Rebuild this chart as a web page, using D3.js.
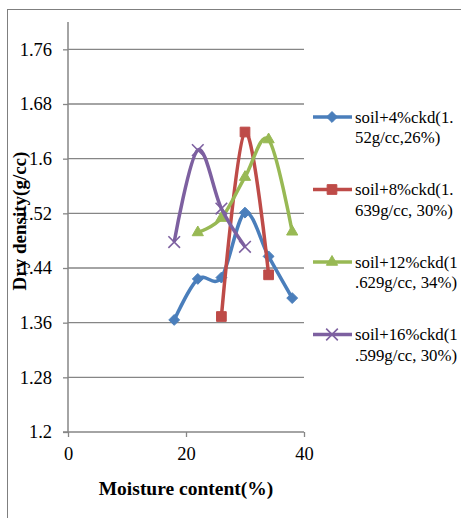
<!DOCTYPE html>
<html><head><meta charset="utf-8">
<script src="https://cdn.jsdelivr.net/npm/d3@7"></script>
<style>body{margin:0;background:#fff}svg{display:block}svg text{font-family:"Times New Roman","Liberation Serif","DejaVu Serif",serif}</style>
</head><body><svg id="c" width="461" height="518"></svg>
<script>
const yTicks = [1.2, 1.28, 1.36, 1.44, 1.52, 1.6, 1.68, 1.76];
const xTicks = [0, 20, 40];
const s4x = [18, 22, 26, 30, 34, 38];
const s4y = [1.364, 1.424, 1.426, 1.521, 1.457, 1.396];
const s8x = [26, 30, 34];
const s8y = [1.369, 1.639, 1.430];
const s12x = [22, 26, 30, 34, 38];
const s12y = [1.492, 1.513, 1.573, 1.628, 1.493];
const s16x = [18, 22, 26, 30];
const s16y = [1.478, 1.6125, 1.527, 1.471];
const names = [["soil+4%ckd(1.", "52g/cc,26%)"], ["soil+8%ckd(1.", "639g/cc, 30%)"], ["soil+12%ckd(1", ".629g/cc, 34%)"], ["soil+16%ckd(1", ".599g/cc, 30%)"]];

const series = [
  {x: s4x, y: s4y, color: "#4A7EBB", sym: "diamond"},
  {x: s8x, y: s8y, color: "#BE4B48", sym: "square"},
  {x: s12x, y: s12y, color: "#98B954", sym: "triangle"},
  {x: s16x, y: s16y, color: "#7D60A0", sym: "x"}
];

const svg = d3.select("#c");
const x = d3.scaleLinear().domain([0, 40]).range([68, 304]);
const y = d3.scaleLinear().domain([1.2, 1.8]).range([432, 22]);
const grid = "#868686";

svg.append("rect").attr("x", 7.5).attr("y", 9.5).attr("width", 470).attr("height", 530)
  .attr("fill", "none").attr("stroke", "#7f7f7f").attr("stroke-width", 1);

svg.append("g").selectAll("line").data(yTicks.slice(1)).join("line")
  .attr("x1", x(0)).attr("x2", x(40)).attr("y1", d => y(d)).attr("y2", d => y(d))
  .attr("stroke", grid).attr("stroke-width", 1.3);

const yAxis = d3.axisLeft(y).tickValues(yTicks).tickSize(5).tickFormat(d => String(+d.toFixed(2)));
const gy = svg.append("g").attr("transform", `translate(${x(0)},0)`).call(yAxis);
gy.attr("font-family", null);
gy.select(".domain").attr("stroke", grid).attr("stroke-width", 1.5).attr("d", `M-5,${y(1.2)}H0V${y(1.8)}`);
gy.selectAll(".tick line").attr("stroke", grid).attr("stroke-width", 1.3);
gy.selectAll(".tick text").attr("font-size", 18.5).attr("fill", "#000").attr("x", -16);

const xAxis = d3.axisBottom(x).tickValues(xTicks).tickSize(5);
const gx = svg.append("g").attr("transform", `translate(0,${y(1.2)})`).call(xAxis);
gx.attr("font-family", null);
gx.select(".domain").attr("stroke", grid).attr("stroke-width", 1.5).attr("d", `M${x(0)},0H${x(40)}`);
gx.selectAll(".tick line").attr("stroke", grid).attr("stroke-width", 1.3);
gx.selectAll(".tick text").attr("font-size", 18.5).attr("fill", "#000").attr("dy", "1.1em");

svg.append("text").attr("x", 186).attr("y", 495).attr("text-anchor", "middle")
  .attr("font-size", 19.5).attr("font-weight", "bold").text("Moisture content(%)");
svg.append("text").attr("transform", "translate(26,221) rotate(-90)").attr("text-anchor", "middle")
  .attr("font-size", 19).attr("font-weight", "bold").text("Dry density(g/cc)");

const symMap = {diamond: d3.symbolDiamond2, square: d3.symbolSquare2, triangle: d3.symbolTriangle2, x: d3.symbolX};
const symSize = {diamond: 75, square: 120, triangle: 90, x: 90};

function marker(g, s, cx, cy) {
  if (s.sym === "x") {
    g.append("path").attr("transform", `translate(${cx},${cy})`)
      .attr("d", d3.symbol(symMap.x, symSize.x)())
      .attr("fill", "none").attr("stroke", s.color).attr("stroke-width", 1.6);
  } else {
    g.append("path").attr("transform", `translate(${cx},${cy})`)
      .attr("d", d3.symbol(symMap[s.sym], symSize[s.sym])())
      .attr("fill", s.color).attr("stroke", s.color).attr("stroke-width", 1);
  }
}

const line = d3.line().x(d => x(d[0])).y(d => y(d[1])).curve(d3.curveCatmullRom.alpha(0));
series.forEach(s => {
  const pts = s.x.map((v, i) => [v, s.y[i]]);
  const g = svg.append("g");
  g.append("path").attr("d", line(pts)).attr("fill", "none").attr("stroke", s.color)
    .attr("stroke-width", 3.5).attr("stroke-linejoin", "round");
  pts.forEach(p => marker(g, s, x(p[0]), y(p[1])));
});

series.forEach((s, i) => {
  const ly = 117 + i * 72.5;
  const g = svg.append("g");
  g.append("line").attr("x1", 313).attr("x2", 352).attr("y1", ly).attr("y2", ly)
    .attr("stroke", s.color).attr("stroke-width", 3.5);
  marker(g, s, 332, ly);
  g.append("text").attr("x", 355).attr("y", ly + 5.5).attr("font-size", 16.8).text(names[i][0]);
  g.append("text").attr("x", 355).attr("y", ly + 26).attr("font-size", 16.8).text(names[i][1]);
});
</script></body></html>
